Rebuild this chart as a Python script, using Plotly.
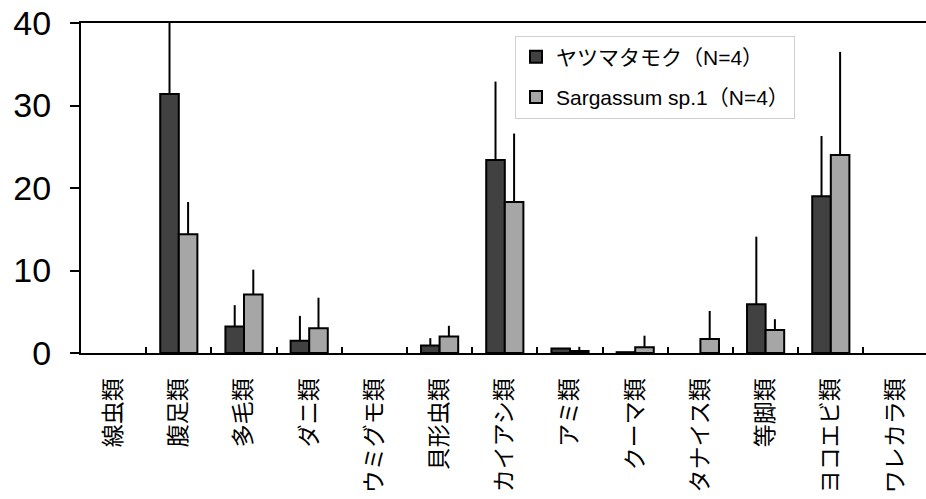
import plotly.graph_objects as go

# Taxa (x categories)
categories = ["線虫類", "腹足類", "多毛類", "ダニ類", "ウミグモ類", "貝形虫類", "カイアシ類",
              "アミ類", "クーマ類", "タナイス類", "等脚類", "ヨコエビ類", "ワレカラ類"]

# Mean individuals per sample and upper error (SD) for each seaweed
yatsumata_mean = [0, 31.4, 3.2, 1.5, 0, 0.9, 23.4, 0.55, 0.1, 0, 5.9, 19.0, 0]
yatsumata_err = [0, 9.5, 2.6, 3.0, 0, 0.9, 9.5, 0, 0, 0, 8.2, 7.3, 0]
sargassum_mean = [0, 14.4, 7.1, 3.0, 0, 2.0, 18.3, 0.25, 0.7, 1.7, 2.8, 24.0, 0]
sargassum_err = [0, 3.9, 3.0, 3.7, 0, 1.3, 8.3, 0.5, 1.4, 3.4, 1.3, 12.5, 0]

series_names = ["ヤツマタモク（N=4）", "Sargassum sp.1（N=4）"]
y_ticks = [0, 10, 20, 30, 40]

fig = go.Figure()
for name, mean, err, color in [
    (series_names[0], yatsumata_mean, yatsumata_err, "#414141"),
    (series_names[1], sargassum_mean, sargassum_err, "#a6a6a6"),
]:
    # taxa with no individuals leave their slot empty
    heights = [v if v > 0 else None for v in mean]
    fig.add_trace(go.Bar(
        x=categories, y=heights, name=name, legendgroup=name,
        marker=dict(color=color, line=dict(color="#000000", width=2)),
        error_y=dict(type="data", symmetric=False, array=err,
                     arrayminus=[0] * len(err), color="#000000",
                     thickness=2, width=0),
    ))

fig.update_layout(
    width=926, height=499,
    margin=dict(l=81, r=0, t=23, b=146),
    paper_bgcolor="white", plot_bgcolor="white",
    barmode="group", bargap=0.43, bargroupgap=0,
    showlegend=True,
    legend=dict(
        x=0.5136, y=0.962, xanchor="left", yanchor="top",
        bgcolor="white", bordercolor="#cfcfcf", borderwidth=1,
        font=dict(family="Liberation Sans, Noto Sans CJK JP", size=21, color="#000000"),
        tracegroupgap=10,
    ),
    xaxis=dict(
        type="category", range=[-0.5, 12.46], automargin=False,
        showline=True, linecolor="#000000", linewidth=2, mirror=True,
        ticks="inside", tickson="boundaries", ticklen=6, tickwidth=2, tickcolor="#000000",
        tickangle=-90, ticklabelstandoff=14,
        tickfont=dict(family="Noto Sans CJK JP", size=23, color="#000000"),
        showgrid=False, zeroline=False,
    ),
    yaxis=dict(
        range=[0, 40], tickvals=y_ticks, automargin=False,
        showline=True, linecolor="#000000", linewidth=2,
        ticks="outside", ticklen=9, tickwidth=2, tickcolor="#000000",
        ticklabelstandoff=12,
        tickfont=dict(family="Liberation Sans", size=34, color="#000000"),
        showgrid=False, zeroline=False,
    ),
)

fig.write_html("out.html")
